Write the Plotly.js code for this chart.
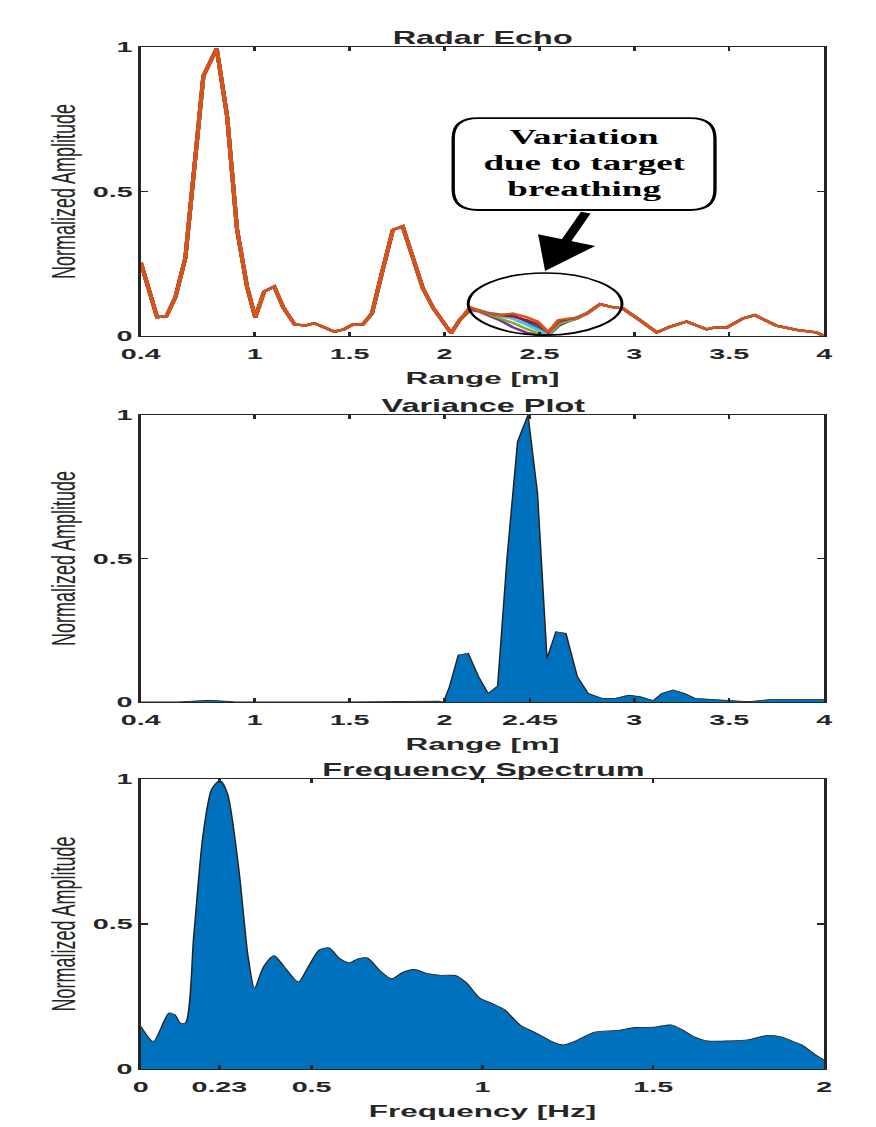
<!DOCTYPE html>
<html>
<head>
<meta charset="utf-8">
<script src="https://cdn.plot.ly/plotly-3.0.1.min.js"></script>
<style>
  html, body { margin: 0; padding: 0; background: #fff; overflow: hidden; }
  #wrap { width: 876px; height: 1127px; overflow: hidden; }
  #plot { width: 473px; height: 1127px; transform: scaleX(1.852); transform-origin: 0 0; }
</style>
</head>
<body>
<div id="wrap"><div id="plot"></div></div>
<script>
// ---------- data ----------
const echoX = [0.40,0.486,0.535,0.583,0.635,0.68,0.73,0.80,0.855,0.907,0.96,1.003,1.05,1.103,1.15,1.21,1.267,1.314,1.363,1.42,1.468,1.518,1.57,1.618,1.67,1.728,1.78,1.834,1.886,1.942,1.995,2.035,2.08,2.135,2.18,2.23,2.29,2.36,2.43,2.49,2.547,2.60,2.65,2.697,2.75,2.82,2.88,2.94,3.03,3.118,3.188,3.276,3.381,3.43,3.486,3.574,3.635,3.75,3.855,3.96,4.0];
const echoY = [0.255,0.065,0.068,0.135,0.27,0.58,0.90,0.995,0.76,0.37,0.17,0.064,0.154,0.171,0.10,0.04,0.036,0.044,0.03,0.015,0.022,0.04,0.04,0.078,0.217,0.367,0.379,0.275,0.165,0.095,0.044,0.01,0.055,0.10,0.088,0.077,0.072,0.078,0.066,0.05,0.013,0.055,0.06,0.062,0.078,0.11,0.10,0.095,0.055,0.012,0.032,0.05,0.023,0.03,0.029,0.061,0.072,0.035,0.021,0.012,0.0];

// range bins where the echoes of successive frames differ (breathing)
const dipX      = [2.135,2.18,2.23,2.29,2.36,2.43,2.49,2.547,2.60,2.65,2.697];
const dipBlue   = [0.095,0.09,0.08,0.075,0.072,0.05,0.03,0.01,0.045,0.055,0.065];
const dipYellow = [0.092,0.085,0.078,0.07,0.06,0.04,0.02,0.005,0.04,0.05,0.06];
const dipPurple = [0.09,0.085,0.07,0.055,0.03,0.012,0.004,0.002,0.035,0.05,0.06];
const dipGreen  = [0.092,0.087,0.075,0.062,0.045,0.025,0.01,0.004,0.04,0.052,0.06];
const dipCyan   = [0.098,0.09,0.08,0.07,0.06,0.04,0.02,0.006,0.05,0.058,0.063];
const dipRed    = [0.096,0.088,0.078,0.072,0.068,0.055,0.04,0.012,0.05,0.058,0.062];

const varX = [0.4,0.6,0.7,0.75,0.82,0.9,1.5,1.8,1.9,1.97,1.995,2.026,2.073,2.125,2.18,2.23,2.28,2.33,2.385,2.44,2.49,2.54,2.587,2.64,2.70,2.757,2.83,2.90,2.97,3.03,3.10,3.146,3.205,3.264,3.32,3.49,3.6,3.72,4.0];
const varY = [0,0,0.004,0.006,0.004,0,0,0.002,0.005,0.003,0,0.053,0.164,0.17,0.088,0.03,0.056,0.506,0.907,1.0,0.727,0.152,0.245,0.239,0.088,0.03,0.013,0.013,0.024,0.019,0.005,0.03,0.042,0.03,0.013,0.007,0.001,0.009,0.009];

const specX = [0,0.037,0.083,0.10,0.116,0.13,0.155,0.182,0.208,0.232,0.254,0.287,0.314,0.333,0.36,0.39,0.419,0.461,0.491,0.524,0.551,0.58,0.61,0.636,0.663,0.702,0.735,0.768,0.80,0.84,0.88,0.92,0.953,0.992,1.032,1.065,1.11,1.157,1.21,1.236,1.269,1.328,1.394,1.447,1.50,1.552,1.585,1.618,1.657,1.723,1.776,1.829,1.868,1.934,1.974,2.0];
const specY = [0.147,0.095,0.193,0.187,0.158,0.158,0.458,0.805,0.966,0.995,0.949,0.689,0.389,0.279,0.354,0.391,0.354,0.30,0.354,0.412,0.418,0.383,0.366,0.38,0.383,0.337,0.311,0.334,0.343,0.329,0.323,0.323,0.297,0.245,0.224,0.204,0.152,0.124,0.091,0.083,0.095,0.127,0.133,0.143,0.144,0.152,0.135,0.112,0.097,0.097,0.10,0.115,0.112,0.083,0.049,0.031];

const rangeTicks1 = [0.4,1,1.5,2,2.5,3,3.5,4];
const rangeLabels1 = ['0.4','1','1.5','2','2.5','3','3.5','4'];
const rangeTicks2 = [0.4,1,1.5,2,2.45,3,3.5,4];
const rangeLabels2 = ['0.4','1','1.5','2','2.45','3','3.5','4'];
const freqTicks = [0,0.23,0.5,1,1.5,2];
const freqLabels = ['0','0.23','0.5','1','1.5','2'];
const ampTicks = [0,0.5,1];
const ampLabels = ['0','0.5','1'];

const titles = ['Radar Echo','Variance Plot','Frequency Spectrum'];
const xTitles = ['Range [m]','Range [m]','Frequency [Hz]'];
const yTitle = 'Normalized Amplitude';
const calloutText = 'Variation<br>due to target<br>breathing';

// ---------- build ----------
function withDip(dip) {
  return echoX.map((x, i) => {
    const k = dipX.indexOf(x);
    return k >= 0 ? dip[k] : echoY[i];
  });
}
const echoSeries = [
  {c:'#0072BD', y: withDip(dipBlue)},
  {c:'#EDB120', y: withDip(dipYellow)},
  {c:'#7E2F8E', y: withDip(dipPurple)},
  {c:'#77AC30', y: withDip(dipGreen)},
  {c:'#4DBEEE', y: withDip(dipCyan)},
  {c:'#A2142F', y: withDip(dipRed)},
  {c:'#D95319', y: echoY}
];

const traces = echoSeries.map(s => ({
  x: echoX, y: s.y, type:'scatter', mode:'lines', xaxis:'x', yaxis:'y',
  line:{color:s.c, width:2.2}, hoverinfo:'skip', showlegend:false
}));
traces.push({x: varX, y: varY, type:'scatter', mode:'lines', fill:'tozeroy',
  fillcolor:'#0072BD', line:{color:'#222', width:0.8}, xaxis:'x2', yaxis:'y2', showlegend:false});
traces.push({x: specX, y: specY, type:'scatter', mode:'lines', fill:'tozeroy',
  fillcolor:'#0072BD', line:{color:'#222', width:0.8, shape:'spline', smoothing:0.7}, xaxis:'x3', yaxis:'y3', showlegend:false});

const FONT = 'Liberation Sans, Arial, Helvetica, sans-serif';
const INK = '#262626';
const tickFont = {family: FONT, size: 15.5, weight: 'bold', color: INK};
const xTitleFont = {family: FONT, size: 17, weight: 'bold', color: INK};
const yTitleFont = {family: FONT, size: 18, color: INK};

const domains = [[0.7019, 0.9583], [0.3771, 0.6318], [0.0515, 0.3088]];

function xAxis(ticks, labels, range, title, anchor) {
  return {
    range: range, tickvals: ticks, ticktext: labels, anchor: anchor,
    showline: true, mirror: 'ticks', linecolor: INK, linewidth: 1.3,
    ticks: 'inside', ticklen: 4, tickwidth: 1.3, tickcolor: INK,
    showgrid: false, zeroline: false, tickfont: tickFont,
    ticklabelstandoff: 3,
    title: {text: title, font: xTitleFont, standoff: 11},
    automargin: false, fixedrange: true
  };
}
function yAxis(dom, anchor) {
  return {
    domain: dom, range: [0, 1], tickvals: ampTicks, ticktext: ampLabels, anchor: anchor,
    showline: true, mirror: 'ticks', linecolor: INK, linewidth: 1.3,
    ticks: 'inside', ticklen: 4, tickwidth: 1.3, tickcolor: INK,
    showgrid: false, zeroline: false, tickfont: tickFont,
    ticklabelstandoff: 0,
    title: {text: yTitle, font: yTitleFont, standoff: 4},
    automargin: false, fixedrange: true
  };
}

// callout box (rounded) in data coords of the top plot
const bx0 = 2.046, bx1 = 3.425, by0 = 0.436, by1 = 0.754, rx = 0.13, ry = 0.07;
const boxPath = `M ${bx0+rx},${by1} L ${bx1-rx},${by1} Q ${bx1},${by1} ${bx1},${by1-ry} L ${bx1},${by0+ry} Q ${bx1},${by0} ${bx1-rx},${by0} L ${bx0+rx},${by0} Q ${bx0},${by0} ${bx0},${by0+ry} L ${bx0},${by1-ry} Q ${bx0},${by1} ${bx0+rx},${by1} Z`;

const annotations = titles.map((t, i) => ({
  text: t, xref: 'paper', yref: 'paper', x: 0.5, y: domains[i][1],
  xanchor: 'center', yanchor: 'bottom', yshift: -3, showarrow: false,
  font: {family: FONT, size: 17.5, weight: 'bold', color: INK}
}));
annotations.push({
  text: calloutText, xref: 'x', yref: 'y', x: (bx0 + bx1) / 2, y: 0.598,
  showarrow: false, align: 'center',
  font: {family: 'Liberation Serif, Times New Roman, serif', size: 20, weight: 'bold', color: '#000'}
});
annotations.push({
  text: '', xref: 'x', yref: 'y', x: 2.53, y: 0.225, axref: 'x', ayref: 'y', ax: 2.75, ay: 0.432,
  showarrow: true, arrowhead: 2, arrowsize: 1.2, arrowwidth: 5.5, arrowcolor: '#000', standoff: 0, startstandoff: 0
});

const layout = {
  width: 473, height: 1127,
  margin: {l: 75.8, r: 27.9, t: 0, b: 0, autoexpand: false},
  paper_bgcolor: '#fff', plot_bgcolor: '#fff',
  showlegend: false,
  xaxis:  xAxis(rangeTicks1, rangeLabels1, [0.4, 4], xTitles[0], 'y'),
  yaxis:  yAxis(domains[0], 'x'),
  xaxis2: xAxis(rangeTicks2, rangeLabels2, [0.4, 4], xTitles[1], 'y2'),
  yaxis2: yAxis(domains[1], 'x2'),
  xaxis3: xAxis(freqTicks, freqLabels, [0, 2], xTitles[2], 'y3'),
  yaxis3: yAxis(domains[2], 'x3'),
  shapes: [
    {type: 'path', xref: 'x', yref: 'y', path: boxPath, line: {color: '#000', width: 1.8}},
    {type: 'circle', xref: 'x', yref: 'y', x0: 2.125, x1: 2.935, y0: 0.003, y1: 0.218, line: {color: '#000', width: 1.6}}
  ],
  annotations: annotations
};

Plotly.newPlot('plot', traces, layout, {staticPlot: true, displayModeBar: false});
</script>
</body>
</html>
